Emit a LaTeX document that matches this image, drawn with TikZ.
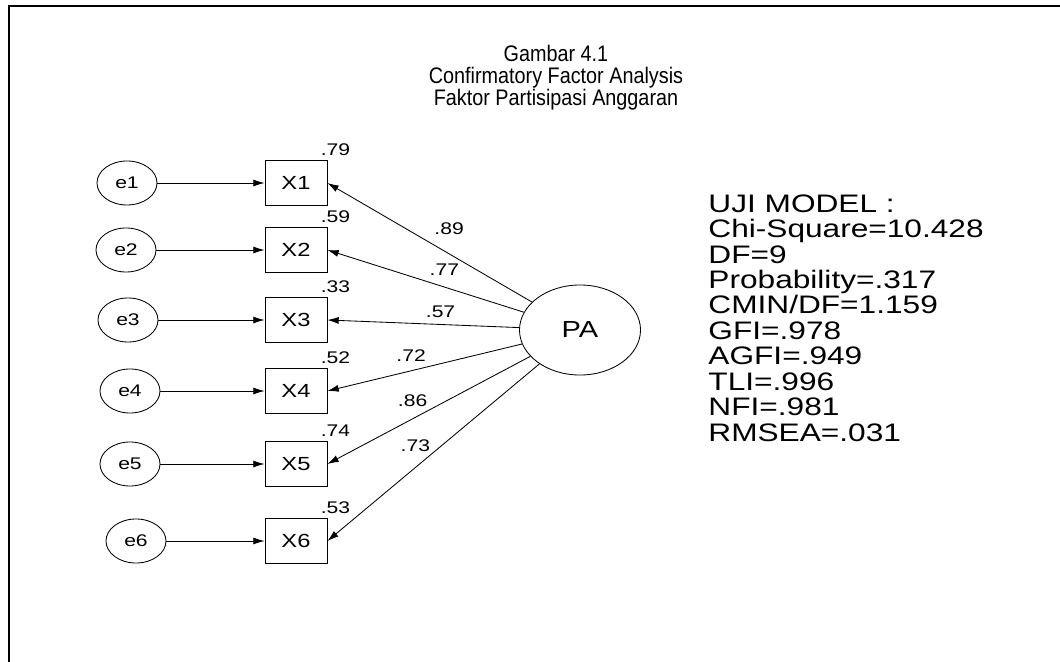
\documentclass[tikz,border=0pt]{standalone}
\usepackage{fontspec}
\setmainfont[FakeStretch=1.25]{Liberation Sans}
\newfontfamily\headfont[FakeStretch=0.88]{Liberation Sans}
\usetikzlibrary{arrows.meta,positioning,shapes}

\begin{document}
\begin{tikzpicture}[x=0.025cm, y=-0.025cm, line width=0.6pt]
  \tikzstyle{err} = [ellipse, draw, minimum width=1.5cm, minimum height=1.1cm, inner sep=0pt, font=\fontsize{12}{14}\selectfont]
  \tikzstyle{obs} = [rectangle, draw, minimum width=1.55cm, minimum height=1.125cm, inner sep=0pt, font=\fontsize{13.5}{15}\selectfont]
  \tikzstyle{latent} = [ellipse, draw, minimum width=3.025cm, minimum height=2.25cm, inner sep=0pt, font=\fontsize{16.5}{18}\selectfont]
  \tikzstyle{coef} = [inner sep=0pt, font=\fontsize{12}{14}\selectfont]
  \tikzstyle{link} = [draw, -{Latex[length=8pt,width=5pt]}]

  \useasboundingbox (0,0) rectangle (1060,662);
  \draw[line width=1.2pt] (9,662) -- (9,6) -- (1060,6);

  \node [align=center, inner sep=0pt, font=\headfont\fontsize{16}{15.6}\selectfont] (title) at (556,78) {Gambar 4.1\\Confirmatory Factor Analysis\\Faktor Partisipasi Anggaran};

  \node [err] (e1) at (127,183) {e1};
  \node [err] (e2) at (126,250) {e2};
  \node [err] (e3) at (128,320) {e3};
  \node [err] (e4) at (130,391) {e4};
  \node [err] (e5) at (130,464) {e5};
  \node [err] (e6) at (136,541) {e6};

  \node [obs] (x1) at (296,183) {X1};
  \node [obs] (x2) at (296,250) {X2};
  \node [obs] (x3) at (296,320) {X3};
  \node [obs] (x4) at (296,391) {X4};
  \node [obs] (x5) at (296,464) {X5};
  \node [obs] (x6) at (296,541) {X6};

  \node [coef, anchor=south] (r1) at ([xshift=0.2cm, yshift=0.1cm]x1.north east) {.79};
  \node [coef, anchor=south] (r2) at ([xshift=0.2cm, yshift=0.1cm]x2.north east) {.59};
  \node [coef, anchor=south] (r3) at ([xshift=0.2cm, yshift=0.1cm]x3.north east) {.33};
  \node [coef, anchor=south] (r4) at ([xshift=0.2cm, yshift=0.1cm]x4.north east) {.52};
  \node [coef, anchor=south] (r5) at ([xshift=0.2cm, yshift=0.1cm]x5.north east) {.74};
  \node [coef, anchor=south] (r6) at ([xshift=0.2cm, yshift=0.1cm]x6.north east) {.53};

  \node [latent] (pa) at (580,330) {PA};

  \node [anchor=north west, inner sep=0pt, align=left, font=\fontsize{18}{18.1}\selectfont] (fit) at (708,194) {UJI MODEL :\\Chi-Square=10.428\\DF=9\\Probability=.317\\CMIN/DF=1.159\\GFI=.978\\AGFI=.949\\TLI=.996\\NFI=.981\\RMSEA=.031};

  \path [link] (e1) -- (x1);
  \path [link] (e2) -- (x2);
  \path [link] (e3) -- (x3);
  \path [link] (e4) -- (x4);
  \path [link] (e5) -- (x5);
  \path [link] (e6) -- (x6);

  \path [link] (pa) -- node [coef, pos=0.405, yshift=0.625cm] (l1) {.89} (x1.east);
  \path [link] (pa) -- node [coef, pos=0.405, yshift=0.425cm] (l2) {.77} (x2.east);
  \path [link] (pa) -- node [coef, pos=0.41, yshift=0.325cm] (l3) {.57} (x3.east);
  \path [link] (pa) -- node [coef, pos=0.57, yshift=0.375cm] (l4) {.72} (x4.east);
  \path [link] (pa) -- node [coef, pos=0.58, yshift=0.45cm] (l5) {.86} (x5.east);
  \path [link] (pa) -- node [coef, pos=0.585, yshift=0.55cm] (l6) {.73} (x6.east);
\end{tikzpicture}
\end{document}
